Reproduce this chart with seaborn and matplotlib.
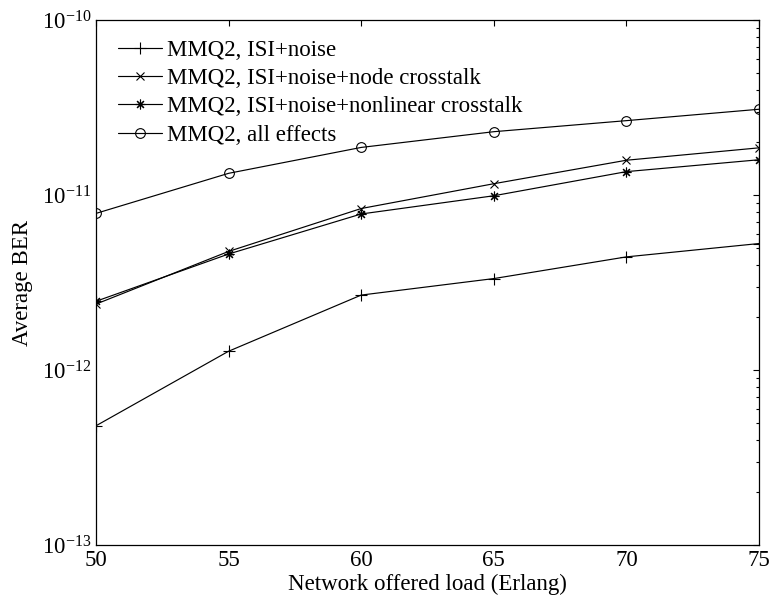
import matplotlib
matplotlib.use("Agg")
import matplotlib.pyplot as plt
import seaborn as sns
import numpy as np
import pandas as pd
from matplotlib.ticker import LogLocator, LogFormatterMathtext, NullFormatter

# ---- data ----
load = [50, 55, 60, 65, 70, 75]
ber_isi_noise = [4.8e-13, 1.28e-12, 2.68e-12, 3.33e-12, 4.43e-12, 5.28e-12]
ber_node_xtalk = [2.38e-12, 4.76e-12, 8.37e-12, 1.16e-11, 1.58e-11, 1.86e-11]
ber_nonlin_xtalk = [2.47e-12, 4.6e-12, 7.79e-12, 9.9e-12, 1.36e-11, 1.59e-11]
ber_all = [7.85e-12, 1.33e-11, 1.87e-11, 2.30e-11, 2.66e-11, 3.09e-11]
labels = ["MMQ2, ISI+noise",
          "MMQ2, ISI+noise+node crosstalk",
          "MMQ2, ISI+noise+nonlinear crosstalk",
          "MMQ2, all effects"]
xticks = [50, 55, 60, 65, 70, 75]

sns.set_theme(style="white")
plt.rcParams["font.family"] = ["Liberation Serif", "DejaVu Serif"]
plt.rcParams["mathtext.fontset"] = "custom"
plt.rcParams["mathtext.rm"] = "Liberation Serif"
plt.rcParams["mathtext.it"] = "Liberation Serif:italic"
plt.rcParams["mathtext.bf"] = "Liberation Serif:bold"

FS = 16.5
fig = plt.figure(figsize=(7.72, 6.01), dpi=100)
ax = fig.add_axes([96/772, 1 - 545/601, (759-96)/772, (545-20)/601])

series = [ber_isi_noise, ber_node_xtalk, ber_nonlin_xtalk, ber_all]
markers = ["+", "x", (8, 2, 0), "o"]
msizes = [8, 6, 7, 7]
for vals, lab, mk, ms in zip(series, labels, markers, msizes):
    df = pd.DataFrame({"load": load, "ber": vals})
    sns.lineplot(data=df, x="load", y="ber", ax=ax, color="black",
                 marker=mk, markersize=ms, markerfacecolor="none",
                 markeredgecolor="black", markeredgewidth=0.8,
                 linewidth=0.85, label=lab)

ax.set_yscale("log")
ax.set_xlim(50, 75)
ax.set_ylim(1e-13, 1e-10)
ax.set_xticks(xticks)
ax.set_xticklabels([str(t) for t in xticks])
ax.yaxis.set_major_locator(LogLocator(base=10, numticks=10))
ax.yaxis.set_major_formatter(LogFormatterMathtext())
ax.yaxis.set_minor_locator(LogLocator(base=10, subs=np.arange(2, 10), numticks=20))
ax.yaxis.set_minor_formatter(NullFormatter())

ax.tick_params(axis="both", which="both", direction="in", top=True, right=True,
               labelsize=FS, colors="black")
ax.tick_params(which="major", length=4.5, width=0.8)
ax.tick_params(which="minor", length=2.5, width=0.8)
for s in ax.spines.values():
    s.set_color("black")
    s.set_linewidth(0.9)
ax.grid(False)

ax.set_xlabel("Network offered load (Erlang)", fontsize=FS, color="black", labelpad=2)
ax.set_ylabel("Average BER", fontsize=FS, color="black", labelpad=6)

leg = ax.legend(loc="upper left", bbox_to_anchor=(0.02, 0.98), frameon=False,
                fontsize=FS, handlelength=1.9, handletextpad=0.2,
                labelspacing=0.32, borderaxespad=0.0)
for t in leg.get_texts():
    t.set_color("black")

fig.savefig("out.png", dpi=100, facecolor="white")
